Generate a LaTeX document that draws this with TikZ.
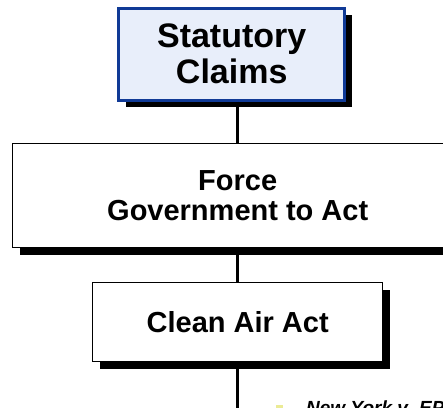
\documentclass[tikz,border=0pt]{standalone}
\usepackage{fontspec}
\setmainfont{Liberation Sans}
\usetikzlibrary{shadows}
\definecolor{claimblue}{RGB}{16,58,150}
\definecolor{claimfill}{RGB}{232,238,250}
\definecolor{bulletyellow}{RGB}{235,235,150}
\begin{document}
\begin{tikzpicture}
  [x=1pt,y=-1pt,
   box/.style={draw=black,line width=1.5pt,fill=white,align=center,
     font=\bfseries\fontsize{29}{30}\selectfont,
     drop shadow={shadow xshift=7pt,shadow yshift=-7pt,fill=black,opacity=1}},
   topbox/.style={box,draw=claimblue,line width=3pt,fill=claimfill,
     font=\bfseries\fontsize{34}{36}\selectfont},
   link/.style={line width=3pt}]

  \useasboundingbox (0,0) rectangle (443,407);

  \node[topbox,minimum width=226pt,minimum height=92pt] (claims) at (231.7,54) {Statutory\\Claims};
  \node[box,minimum width=450pt,minimum height=104pt] (force) at (237.7,195.5) {Force\\Government to Act};
  \node[box,minimum width=290pt,minimum height=79pt] (cleanair) at (237.7,322) {Clean Air Act};
  \coordinate (bottom) at (237.7,412);

  \draw[link] (claims.south -| force.north) -- (force.north);
  \draw[link] (force.south) -- (cleanair.north);
  \draw[link] (cleanair.south) -- (bottom);

  \fill[bulletyellow] (276,405) rectangle (283,412);
  \node[anchor=base west,inner sep=0pt,font=\bfseries\itshape\fontsize{19}{21}\selectfont] (case) at (306,414) {New York v. EPA};
\end{tikzpicture}
\end{document}
